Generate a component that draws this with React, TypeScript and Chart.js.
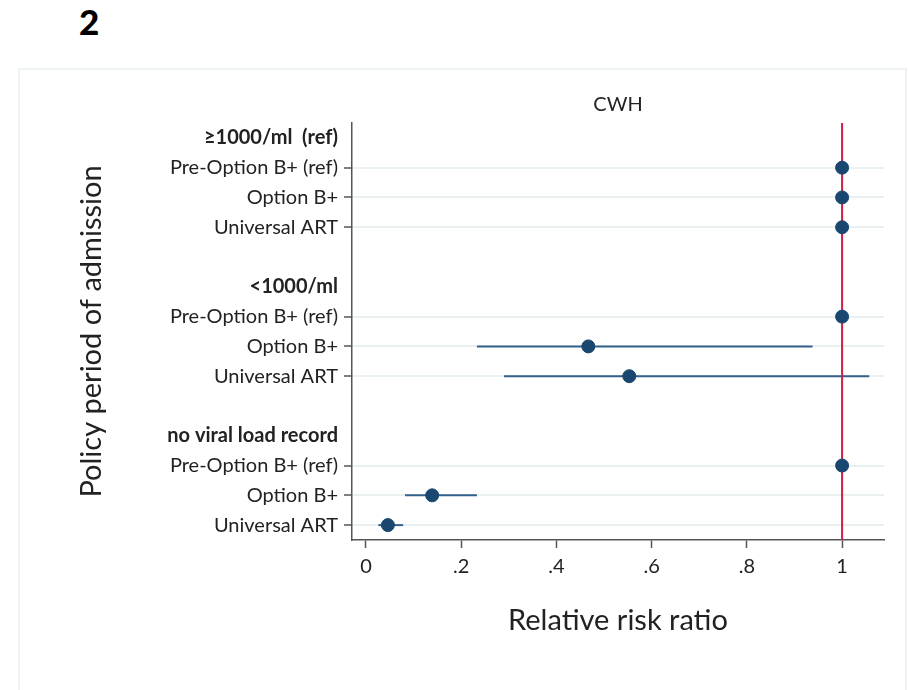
import React, { useEffect, useRef } from "react";
import { Chart, registerables } from "chart.js";

Chart.register(...registerables);

const rowLabels = [
  "≥1000/ml  (ref)",
  "Pre-Option B+ (ref)",
  "Option B+",
  "Universal ART",
  "",
  "<1000/ml",
  "Pre-Option B+ (ref)",
  "Option B+",
  "Universal ART",
  "",
  "no viral load record",
  "Pre-Option B+ (ref)",
  "Option B+",
  "Universal ART",
];
const headerRows = [0, 5, 10];
const estRows = [1, 2, 3, 6, 7, 8, 11, 12, 13];
const estimates = [1, 1, 1, 1, 0.467, 0.553, 1, 0.139, 0.046];
const ciRows = [7, 8, 12, 13];
const ciLow = [0.233, 0.29, 0.082, 0.026];
const ciHigh = [0.938, 1.057, 0.233, 0.078];
const xTicks = [0, 0.2, 0.4, 0.6, 0.8, 1];
const xTickLabels = ["0", ".2", ".4", ".6", ".8", "1"];
const refValue = 1;

const FONT = "Lato, 'Open Sans', sans-serif";
const NAVY = "#1a476f";
const CI_COLOR = "#34608c";
const RED = "#cf1d45";
const GRID = "#e8f0f2";
const AXIS = "#555555";

export default function App() {
  const ref = useRef<HTMLCanvasElement | null>(null);

  useEffect(() => {
    if (!ref.current) return;
    const isData = (i: number) => rowLabels[i] !== "" && !headerRows.includes(i);
    const ciSets = ciRows.map((r, i) => ({
      type: "line" as const,
      data: [
        { x: ciLow[i], y: r },
        { x: ciHigh[i], y: r },
      ],
      borderColor: CI_COLOR,
      borderWidth: 2,
      pointRadius: 0,
      showLine: true,
      order: 2,
    }));
    const chart = new Chart(ref.current, {
      type: "scatter",
      data: {
        datasets: [
          {
            data: estRows.map((r, i) => ({ x: estimates[i], y: r })),
            backgroundColor: NAVY,
            borderColor: NAVY,
            pointRadius: 6.5,
            pointHoverRadius: 6.5,
            order: 0,
          },
          {
            type: "line",
            data: [
              { x: refValue, y: -0.5 },
              { x: refValue, y: rowLabels.length - 0.5 },
            ],
            borderColor: RED,
            borderWidth: 2,
            pointRadius: 0,
            showLine: true,
            order: 1,
          },
          ...ciSets,
        ] as any,
      },
      options: {
        animation: false,
        responsive: false,
        events: [],
        layout: { padding: { left: 0, right: 24, top: 0, bottom: 0 } },
        plugins: {
          legend: { display: false },
          tooltip: { enabled: false },
          title: {
            display: true,
            text: "CWH",
            fullSize: false,
            color: "#222",
            font: { family: FONT, size: 20, weight: "normal" },
            padding: { top: 93, bottom: 6 },
          },
        },
        scales: {
          x: {
            type: "linear",
            min: -0.0294,
            max: 1.088,
            afterBuildTicks: (s: any) => {
              s.ticks = xTicks.map((v) => ({ value: v }));
            },
            afterFit: (s: any) => {
              s.height = 150;
            },
            ticks: {
              callback: (_v: any, i: number) => xTickLabels[i],
              color: "#222",
              font: { family: FONT, size: 20 },
              padding: 7,
              autoSkip: false,
              maxRotation: 0,
            },
            grid: {
              drawOnChartArea: false,
              tickLength: 8,
              tickColor: AXIS,
              tickWidth: 1.5,
            },
            border: { color: AXIS, width: 1.5 },
            title: {
              display: true,
              text: "Relative risk ratio",
              color: "#222",
              font: { family: FONT, size: 29 },
              padding: { top: 0, bottom: 52 },
            },
          },
          y: {
            type: "linear",
            reverse: true,
            min: -0.5,
            max: rowLabels.length - 0.5,
            afterBuildTicks: (s: any) => {
              s.ticks = rowLabels.map((_l, i) => ({ value: i }));
            },
            afterFit: (s: any) => {
              s.width = 352;
            },
            ticks: {
              callback: (_v: any, i: number) => rowLabels[i],
              color: "#222",
              autoSkip: false,
              padding: 6,
              font: (ctx: any) => ({
                family: FONT,
                size: 20,
                weight: headerRows.includes(ctx.index) ? "bold" : "normal",
              }),
            },
            grid: {
              color: (ctx: any) => (isData(ctx.index) ? GRID : "rgba(0,0,0,0)"),
              lineWidth: 2,
              tickLength: 8,
              tickColor: (ctx: any) => (isData(ctx.index) ? AXIS : "rgba(0,0,0,0)"),
              tickWidth: 1.5,
            },
            border: { color: AXIS, width: 1.5 },
            title: {
              display: true,
              text: "Policy period of admission",
              color: "#222",
              font: { family: FONT, size: 29 },
              padding: { top: 74, bottom: 0 },
            },
          },
        },
      } as any,
    });
    return () => chart.destroy();
  }, []);

  return (
    <div
      style={{
        position: "fixed",
        left: 0,
        top: 0,
        width: 908,
        height: 690,
        background: "#fff",
        overflow: "hidden",
      }}
    >
      <div
        style={{
          position: "absolute",
          left: 79,
          top: 1,
          fontFamily: FONT,
          fontWeight: 900,
          fontSize: 35,
          lineHeight: "40px",
          color: "#000",
        }}
      >
        2
      </div>
      <div
        style={{
          position: "absolute",
          left: 18,
          top: 68,
          width: 885,
          height: 640,
          border: "2px solid #edf3f4",
        }}
      />
      <canvas
        ref={ref}
        width={908}
        height={690}
        style={{ position: "absolute", left: 0, top: 0, width: 908, height: 690 }}
      />
    </div>
  );
}
